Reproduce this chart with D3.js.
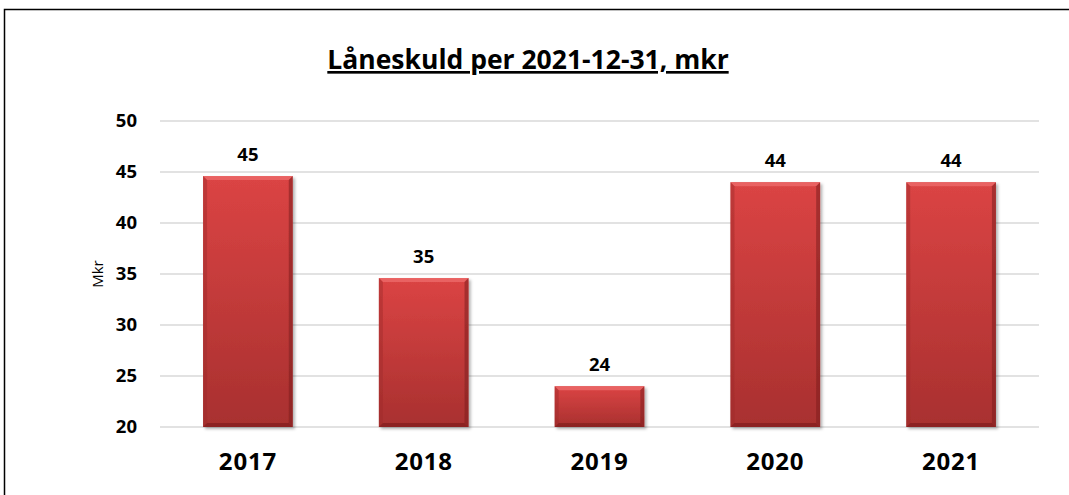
<!DOCTYPE html>
<html>
<head>
<meta charset="utf-8">
<script src="https://cdn.jsdelivr.net/npm/d3@7"></script>
<style>
  body { margin: 0; background: #fff; }
  text { font-family: "Open Sans", "Noto Sans", sans-serif; }
</style>
</head>
<body>
<script>
const years = ["2017", "2018", "2019", "2020", "2021"]
const values = [44.6, 34.6, 24.0, 44.0, 44.0]
const labels = ["45", "35", "24", "44", "44"]
const yTicks = [20, 25, 30, 35, 40, 45, 50]

const W = 1069, H = 495
const plotLeft = 160, plotRight = 1039, plotTop = 121, plotBottom = 427
const bev = 4

const svg = d3.select("body").append("svg").attr("width", W).attr("height", H)

const defs = svg.append("defs")
const grad = defs.append("linearGradient").attr("id", "barfill")
  .attr("x1", 0).attr("y1", 0).attr("x2", 0).attr("y2", 1)
grad.append("stop").attr("offset", "0%").attr("stop-color", "#db4444")
grad.append("stop").attr("offset", "100%").attr("stop-color", "#a8302f")
const sh = defs.append("filter").attr("id", "shadow")
  .attr("x", "-10%").attr("y", "-10%").attr("width", "130%").attr("height", "130%")
sh.append("feDropShadow").attr("dx", 2).attr("dy", 2).attr("stdDeviation", 1.5)
  .attr("flood-color", "#000").attr("flood-opacity", 0.3)

// outer frame
svg.append("path").attr("d", `M4.5,${H} V9.5 H${W}`)
  .attr("fill", "none").attr("stroke", "#000").attr("stroke-width", 1.5)

// title
svg.append("text").attr("x", 528).attr("y", 69).attr("text-anchor", "middle")
  .attr("font-size", 26.5).attr("font-weight", "bold").attr("text-decoration", "underline")
  .text("Låneskuld per 2021-12-31, mkr")

const x = d3.scaleBand().domain(years).range([plotLeft, plotRight]).paddingInner(0.49).paddingOuter(0.245)
const y = d3.scaleLinear().domain([20, 50]).range([plotBottom, plotTop])

// grid
svg.append("g").selectAll("line").data(yTicks).join("line")
  .attr("x1", plotLeft).attr("x2", plotRight)
  .attr("y1", d => y(d)).attr("y2", d => y(d))
  .attr("stroke", "#d9d9d9").attr("stroke-width", 1.5)

// y axis labels
const yAxis = svg.append("g").attr("transform", `translate(${plotLeft},0)`)
  .call(d3.axisLeft(y).tickValues(yTicks).tickSize(0).tickPadding(23))
yAxis.select(".domain").remove()
yAxis.selectAll("text").attr("font-size", 18.5).attr("font-weight", "bold")
  .attr("fill", "#000").attr("font-family", "\"Open Sans\", sans-serif")

svg.append("text").attr("transform", `translate(103,274) rotate(-90)`)
  .attr("text-anchor", "middle").attr("font-size", 15).text("Mkr")

// x axis labels
const xAxis = svg.append("g").attr("transform", `translate(0,${plotBottom})`)
  .call(d3.axisBottom(x).tickSize(0).tickPadding(26))
xAxis.select(".domain").remove()
xAxis.selectAll("text").attr("font-size", 24).attr("font-weight", "bold")
  .attr("letter-spacing", 0.8)
  .attr("fill", "#000").attr("font-family", "\"Open Sans\", sans-serif")

// bars
const bars = svg.append("g").selectAll("g").data(years).join("g")
  .attr("filter", "url(#shadow)")
bars.append("rect")
  .attr("x", d => x(d)).attr("y", (d, i) => y(values[i]))
  .attr("width", x.bandwidth()).attr("height", (d, i) => y(20) - y(values[i]))
  .attr("fill", "url(#barfill)")
// bevel edges
bars.each(function (d, i) {
  const g = d3.select(this)
  const x0 = x(d), x1 = x(d) + x.bandwidth(), y0 = y(values[i]), y1 = y(20)
  g.append("polygon").attr("points", `${x0},${y0} ${x1},${y0} ${x1 - bev},${y0 + bev} ${x0 + bev},${y0 + bev}`)
    .attr("fill", "#ec6a6a").attr("opacity", 0.8)
  g.append("polygon").attr("points", `${x0},${y0} ${x0 + bev},${y0 + bev} ${x0 + bev},${y1 - bev} ${x0},${y1}`)
    .attr("fill", "#9e2a2a").attr("opacity", 0.45)
  g.append("polygon").attr("points", `${x1},${y0} ${x1 - bev},${y0 + bev} ${x1 - bev},${y1 - bev} ${x1},${y1}`)
    .attr("fill", "#7e1f1f").attr("opacity", 0.55)
  g.append("polygon").attr("points", `${x0},${y1} ${x0 + bev},${y1 - bev} ${x1 - bev},${y1 - bev} ${x1},${y1}`)
    .attr("fill", "#7a1c1c").attr("opacity", 0.6)
})

// data labels
svg.append("g").selectAll("text").data(years).join("text")
  .attr("x", d => x(d) + x.bandwidth() / 2)
  .attr("y", (d, i) => y(values[i]) - 15)
  .attr("text-anchor", "middle").attr("font-size", 18.5).attr("font-weight", "bold")
  .text((d, i) => labels[i])
</script>
</body>
</html>
